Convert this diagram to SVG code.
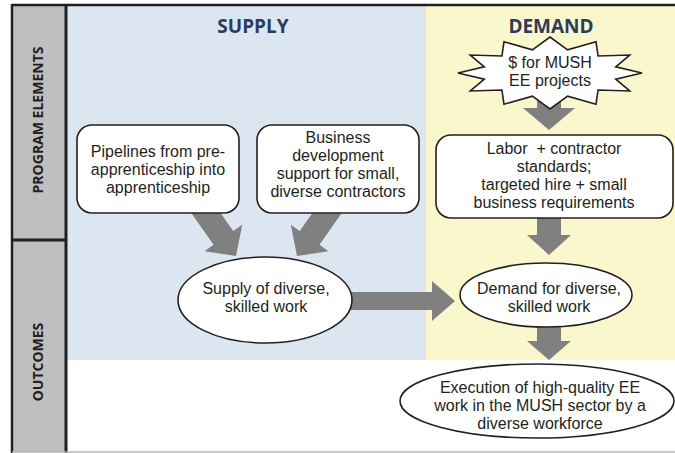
<svg xmlns="http://www.w3.org/2000/svg" width="675" height="453" viewBox="0 0 675 453">
  <style>
    .lbl { font-family: "Liberation Sans", Arial, sans-serif; font-size: 16px; fill: #231f20; text-anchor: middle; white-space: pre; }
    .hdr { font-family: "Open Sans", "Liberation Sans", sans-serif; font-size: 19px; font-weight: bold; fill: #2b3c5a; text-anchor: middle; }
    .side { font-family: "Open Sans", "Liberation Sans", sans-serif; font-size: 14px; font-weight: bold; fill: #231f20; text-anchor: middle; }
    .node { fill: #ffffff; stroke: #231f20; stroke-width: 1.6; }
    .arrow { fill: #808080; }
  </style>
  <defs>
    <!-- block arrow pointing along +x, tip at the origin -->
    <polygon id="diagArrow" points="-60,-12 -22,-12 -22,-23 0,0 -22,23 -22,12 -60,12"/>
  </defs>

  <!-- background panels -->
  <rect x="0" y="0" width="675" height="453" fill="#ffffff"/>
  <rect x="66" y="5" width="360" height="355" fill="#dce6f0"/>
  <rect x="426" y="5" width="249" height="355" fill="#faf7cd"/>
  <rect x="12" y="5" width="54" height="447" fill="#bfbfc1"/>

  <!-- frame lines -->
  <line x1="12" y1="5" x2="675" y2="5" stroke="#231f20" stroke-width="2.5"/>
  <line x1="12" y1="4" x2="12" y2="453" stroke="#231f20" stroke-width="2.5"/>
  <line x1="66" y1="4" x2="66" y2="453" stroke="#231f20" stroke-width="3"/>
  <line x1="12" y1="240" x2="66" y2="240" stroke="#231f20" stroke-width="3"/>
  <line x1="12" y1="452" x2="675" y2="452" stroke="#b5b5b5" stroke-width="1.5"/>

  <!-- row labels -->
  <text class="side" transform="translate(43,120) rotate(-90)">PROGRAM ELEMENTS</text>
  <text class="side" transform="translate(43,362) rotate(-90)">OUTCOMES</text>

  <!-- column headers -->
  <text class="hdr" x="253" y="33">SUPPLY</text>
  <text class="hdr" x="551" y="33">DEMAND</text>

  <!-- connectors -->
  <g id="connectors" class="arrow">
    <use href="#diagArrow" transform="translate(236,256) rotate(55)"/>
    <use href="#diagArrow" transform="translate(297,256) rotate(125)"/>
    <polygon points="340,292 432,292 432,281 455,301 432,321 432,310 340,310"/>
    <polygon points="537,95 561,95 561,108 575,108 549,130 523,108 537,108"/>
    <polygon points="537,215 561,215 561,235 571,235 549,255 527,235 537,235"/>
    <polygon points="537,322 561,322 561,341 571,341 549,360 527,341 537,341"/>
  </g>

  <!-- supply program elements -->
  <g id="pipelines">
    <rect class="node" x="77" y="125" width="162" height="88" rx="15"/>
    <text class="lbl" x="158" y="157">Pipelines from pre-</text>
    <text class="lbl" x="158" y="175">apprenticeship into</text>
    <text class="lbl" x="158" y="193">apprenticeship</text>
  </g>
  <g id="business-dev">
    <rect class="node" x="257" y="125" width="162" height="88" rx="15"/>
    <text class="lbl" x="338" y="143">Business</text>
    <text class="lbl" x="338" y="161">development</text>
    <text class="lbl" x="338" y="179">support for small,</text>
    <text class="lbl" x="338" y="197">diverse contractors</text>
  </g>

  <!-- demand program elements -->
  <g id="funding">
    <polygon class="node" points="642,73 615.7,79.2 629.7,91 598.1,90 596,104.2 567.6,96.2 550,109 532.4,96.2 504,104.2 501.9,90 470.3,91 484.3,79.2 458,73 484.3,66.8 470.3,55 501.9,56 504,41.8 532.4,49.8 550,37 567.6,49.8 596,41.8 598.1,56 629.7,55 615.7,66.8"/>
    <text class="lbl" x="550" y="68">$ for MUSH</text>
    <text class="lbl" x="550" y="86">EE projects</text>
  </g>
  <g id="standards">
    <rect class="node" x="436" y="135" width="237" height="83" rx="15"/>
    <text class="lbl" x="554" y="154">Labor  + contractor</text>
    <text class="lbl" x="554" y="172">standards;</text>
    <text class="lbl" x="554" y="190">targeted hire + small</text>
    <text class="lbl" x="554" y="208">business requirements</text>
  </g>

  <!-- outcomes -->
  <g id="supply-outcome">
    <ellipse class="node" cx="265" cy="300" rx="87" ry="43"/>
    <text class="lbl" x="266" y="294">Supply of diverse,</text>
    <text class="lbl" x="266" y="312">skilled work</text>
  </g>
  <g id="demand-outcome">
    <ellipse class="node" cx="546" cy="295" rx="86" ry="32"/>
    <text class="lbl" x="549" y="294">Demand for diverse,</text>
    <text class="lbl" x="549" y="312">skilled work</text>
  </g>
  <g id="execution">
    <ellipse class="node" cx="537" cy="401" rx="137" ry="37"/>
    <text class="lbl" x="540" y="393">Execution of high-quality EE</text>
    <text class="lbl" x="540" y="411">work in the MUSH sector by a</text>
    <text class="lbl" x="540" y="429">diverse workforce</text>
  </g>
</svg>
